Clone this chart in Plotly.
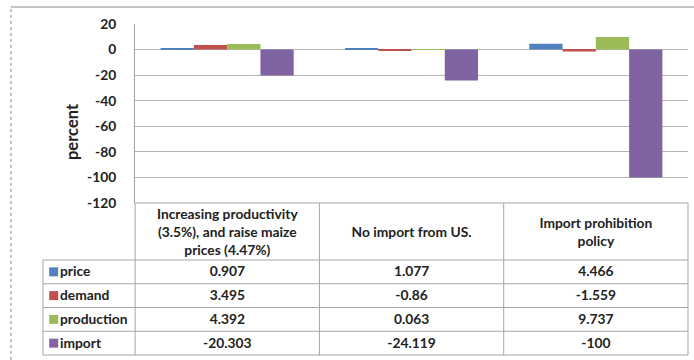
import plotly.graph_objects as go

# Scenario results (percent change)
scenarios = ["Increasing productivity (3.5%), and raise maize prices (4.47%)",
             "No import from US.",
             "Import prohibition policy"]
header_labels = ["Increasing productivity<br>(3.5%), and raise maize<br>prices (4.47%)",
                 "No import from US.",
                 "Import prohibition<br>policy"]
price = [0.907, 1.077, 4.466]
demand = [3.495, -0.86, -1.559]
production = [4.392, 0.063, 9.737]
imports = [-20.303, -24.119, -100]

series_names = ["price", "demand", "production", "import"]
series_values = [price, demand, production, imports]
colors = ["#4F81BD", "#C0504D", "#9BBB59", "#8064A2"]

y_ticks = [20, 0, -20, -40, -60, -80, -100, -120]

FONT = "Lato"
FS = 13.8
TEXT = "#222222"
GRID = "#b4b4b4"
BORDER = "#a6a6a6"
W, H = 694, 360

fig = go.Figure()

# grouped bars
for name, vals, col in zip(series_names, series_values, colors):
    fig.add_trace(go.Bar(x=list(range(len(scenarios))), y=vals, name=name,
                         marker=dict(color=col, line=dict(width=0)),
                         xaxis="x", yaxis="y", showlegend=False,
                         hoverinfo="y+name"))

# ---- data table below the chart ----
n_cat = len(scenarios)
hdr_h = 2.4            # header row height in row units
legend_left = -1.0     # legend column spans [-1, -0.5]
right = n_cat - 0.5
bottom = hdr_h + len(series_names)

# header text
fig.add_trace(go.Scatter(x=list(range(n_cat)), y=[hdr_h / 2 + 0.08] * n_cat,
                         text=["<b>%s</b>" % t for t in header_labels],
                         mode="text", textposition="middle center",
                         textfont=dict(family=FONT, size=FS, color=TEXT),
                         xaxis="x2", yaxis="y2", showlegend=False, hoverinfo="skip",
                         cliponaxis=False))

# value cells
for i, vals in enumerate(series_values):
    yc = hdr_h + i + 0.55
    fig.add_trace(go.Scatter(x=list(range(n_cat)), y=[yc] * n_cat,
                             text=["<b>%s</b>" % f"{v:g}" for v in vals],
                             mode="text", textposition="middle center",
                             textfont=dict(family=FONT, size=FS, color=TEXT),
                             xaxis="x2", yaxis="y2", showlegend=False, hoverinfo="skip",
                             cliponaxis=False))

# legend keys and series labels in the first column
row_y = [hdr_h + i + 0.5 for i in range(len(series_names))]
fig.add_trace(go.Scatter(x=[legend_left + 0.058] * len(series_names), y=row_y,
                         mode="markers",
                         marker=dict(symbol="square", size=9, color=colors, line=dict(width=0)),
                         xaxis="x2", yaxis="y2", showlegend=False, hoverinfo="skip",
                         cliponaxis=False))
fig.add_trace(go.Scatter(x=[legend_left + 0.092] * len(series_names),
                         y=[v + 0.05 for v in row_y],
                         text=["<b>%s</b>" % s for s in series_names],
                         mode="text", textposition="middle right",
                         textfont=dict(family=FONT, size=FS, color=TEXT),
                         xaxis="x2", yaxis="y2", showlegend=False, hoverinfo="skip",
                         cliponaxis=False))

shapes = []
line = dict(color=BORDER, width=1)
# horizontal rules
shapes.append(dict(type="line", xref="x2", yref="y2", x0=-0.5, x1=right, y0=0, y1=0, line=line))
for k in range(len(series_names) + 1):
    yv = hdr_h + k
    shapes.append(dict(type="line", xref="x2", yref="y2", x0=legend_left, x1=right,
                       y0=yv, y1=yv, line=line))
# vertical rules
shapes.append(dict(type="line", xref="x2", yref="y2", x0=legend_left, x1=legend_left,
                   y0=hdr_h, y1=bottom, line=line))
for c in range(n_cat + 1):
    xv = c - 0.5
    shapes.append(dict(type="line", xref="x2", yref="y2", x0=xv, x1=xv,
                       y0=0, y1=bottom, line=line))

# chart frame: top rule and dotted left edge
shapes.append(dict(type="line", xref="paper", yref="paper", x0=11 / W, x1=1,
                   y0=1 - 7 / H, y1=1 - 7 / H, line=dict(color="#8c8c8c", width=1.2)))
shapes.append(dict(type="line", xref="paper", yref="paper", x0=11 / W, x1=11 / W,
                   y0=0, y1=1 - 7 / H, line=dict(color="#9a9a9a", width=1.2, dash="dot")))

px_per_cat = (688 - 135) / n_cat
padx = 1 / px_per_cat
row_px = (355 - 203) / bottom
pady = 1 / row_px

fig.update_layout(
    width=W, height=H, autosize=False,
    margin=dict(l=0, r=0, t=0, b=0, pad=0, autoexpand=False),
    paper_bgcolor="white", plot_bgcolor="rgba(0,0,0,0)",
    barmode="group", bargap=0.278, bargroupgap=0,
    font=dict(family=FONT, color=TEXT),
    shapes=shapes,
    xaxis=dict(domain=[135 / W, 688 / W], range=[-0.5, n_cat - 0.5],
               showticklabels=False, showgrid=False, zeroline=False,
               showline=False, ticks="", fixedrange=True, automargin=False),
    yaxis=dict(domain=[1 - 203 / H, 1 - 24 / H], range=[-120, 20],
               tickvals=y_ticks, ticktext=["<b>%d</b>" % v for v in y_ticks],
               tickfont=dict(family=FONT, size=FS, color=TEXT),
               showgrid=True, gridcolor=GRID, gridwidth=1,
               zeroline=True, zerolinecolor=GRID, zerolinewidth=1,
               showline=True, linecolor="#a0a0a0", linewidth=1,
               ticks="", ticklabelstandoff=15, fixedrange=True, automargin=False),
    xaxis2=dict(domain=[42 / W, 689 / W], anchor="y2",
                range=[legend_left - padx, right + padx],
                visible=False, fixedrange=True, automargin=False),
    yaxis2=dict(domain=[1 - 356 / H, 1 - 202 / H], anchor="x2",
                range=[bottom + pady, -pady],
                visible=False, fixedrange=True, automargin=False),
    annotations=[dict(text="<b>percent</b>", xref="paper", yref="paper",
                      x=72 / W, y=1 - 132 / H, textangle=-90, showarrow=False,
                      xanchor="center", yanchor="middle",
                      font=dict(family=FONT, size=16.5, color=TEXT))],
)

fig.write_html("out.html")
